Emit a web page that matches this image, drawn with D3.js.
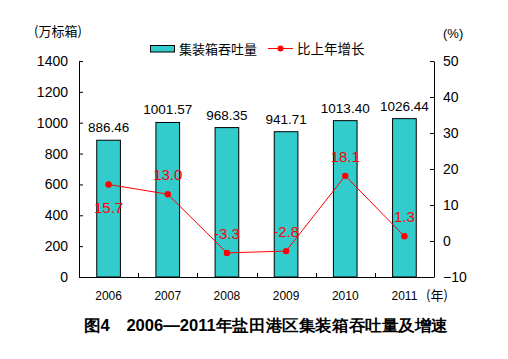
<!DOCTYPE html>
<html>
<head>
<meta charset="utf-8">
<script src="https://cdn.jsdelivr.net/npm/d3@7"></script>
<style>
  body { margin: 0; background: #fff; }
  svg { display: block; }
  text { font-family: "Liberation Sans", Arial, sans-serif; }
  .cjk { font-family: "Noto Sans CJK SC", sans-serif; }
</style>
</head>
<body>
<svg width="508" height="359"></svg>
<script>
const years = ["2006", "2007", "2008", "2009", "2010", "2011"];
const teu = [886.46, 1001.57, 968.35, 941.71, 1013.40, 1026.44];
const growth = [15.7, 13.0, -3.3, -2.8, 18.1, 1.3];
const leftTicks = [0, 200, 400, 600, 800, 1000, 1200, 1400];
const rightTicks = [-10, 0, 10, 20, 30, 40, 50];

const width = 508;
const height = 359;
const margin = { left: 79, right: 74, top: 61, bottom: 82 };

const svg = d3.select("svg");

const x = d3
  .scaleBand()
  .domain(years)
  .range([margin.left, width - margin.right])
  .paddingInner(0.6)
  .paddingOuter(0.3);

const yL = d3.scaleLinear().domain([0, 1400]).range([height - margin.bottom, margin.top]);
const yR = d3.scaleLinear().domain([-10, 50]).range([height - margin.bottom, margin.top]);

const bottom = height - margin.bottom;
const right = width - margin.right;

// bars
svg
  .append("g")
  .selectAll("rect")
  .data(teu)
  .join("rect")
  .attr("x", (d, i) => x(years[i]))
  .attr("y", (d) => yL(d))
  .attr("width", x.bandwidth())
  .attr("height", (d) => bottom - yL(d))
  .attr("fill", "#33CCCC")
  .attr("stroke", "#000")
  .attr("stroke-width", 1);

// bar value labels
svg
  .append("g")
  .selectAll("text")
  .data(teu)
  .join("text")
  .attr("x", (d, i) => x(years[i]) + x.bandwidth() / 2)
  .attr("y", (d) => yL(d) - 8)
  .attr("text-anchor", "middle")
  .attr("font-size", 13.5)
  .attr("fill", "#000")
  .text((d) => d.toFixed(2));

// left axis
const axL = svg
  .append("g")
  .attr("transform", `translate(${margin.left},0)`)
  .call(
    d3.axisLeft(yL).tickValues(leftTicks).tickFormat(d3.format("d"))
      .tickSize(-4).tickPadding(11).tickSizeOuter(0)
  );
axL.selectAll("text").attr("font-size", 14).attr("font-family", "Liberation Sans, Arial, sans-serif");

// right axis
const axR = svg
  .append("g")
  .attr("transform", `translate(${right},0)`)
  .call(
    d3.axisRight(yR).tickValues(rightTicks).tickFormat(d3.format("d"))
      .tickSize(-4).tickPadding(9).tickSizeOuter(0)
  );
axR.selectAll("text").attr("font-size", 14).attr("font-family", "Liberation Sans, Arial, sans-serif");

// bottom axis line with category separator ticks
svg
  .append("line")
  .attr("x1", margin.left)
  .attr("x2", right)
  .attr("y1", bottom + 0.5)
  .attr("y2", bottom + 0.5)
  .attr("stroke", "#000");

svg
  .append("g")
  .selectAll("line")
  .data(years.slice(1))
  .join("line")
  .attr("x1", (d) => Math.round(x(d) - x.step() * x.paddingInner() / 2) + 0.5)
  .attr("x2", (d) => Math.round(x(d) - x.step() * x.paddingInner() / 2) + 0.5)
  .attr("y1", bottom)
  .attr("y2", bottom - 4)
  .attr("stroke", "#000");

svg
  .append("g")
  .selectAll("text")
  .data(years)
  .join("text")
  .attr("x", (d) => x(d) + x.bandwidth() / 2)
  .attr("y", bottom + 23)
  .attr("text-anchor", "middle")
  .attr("font-size", 12)
  .text((d) => d);

// growth line
const line = d3
  .line()
  .x((d, i) => x(years[i]) + x.bandwidth() / 2)
  .y((d) => yR(d));

svg
  .append("path")
  .datum(growth)
  .attr("d", line)
  .attr("fill", "none")
  .attr("stroke", "#FF0000")
  .attr("stroke-width", 1);

svg
  .append("g")
  .selectAll("circle")
  .data(growth)
  .join("circle")
  .attr("cx", (d, i) => x(years[i]) + x.bandwidth() / 2)
  .attr("cy", (d) => yR(d))
  .attr("r", 3.2)
  .attr("fill", "#FF0000");

svg
  .append("g")
  .selectAll("text")
  .data(growth)
  .join("text")
  .attr("x", (d, i) => x(years[i]) + x.bandwidth() / 2)
  .attr("y", (d, i) => (i === 0 ? yR(d) + 29 : yR(d) - 14))
  .attr("text-anchor", "middle")
  .attr("font-size", 15)
  .attr("font-family", "Liberation Sans Narrow, Liberation Sans, Arial, sans-serif")
  .attr("fill", "#FF0000")
  .text((d) => d.toFixed(1));

// unit labels
svg.append("text").attr("class", "cjk").attr("x", 34).attr("y", 36).attr("font-size", 13).text("(万标箱)");
svg.append("text").attr("x", 443).attr("y", 38).attr("font-size", 13).text("(%)");
svg.append("text").attr("class", "cjk").attr("x", 426).attr("y", 300).attr("font-size", 13).text("(年)");

// legend
const lg = svg.append("g");
lg.append("rect")
  .attr("x", 150.5)
  .attr("y", 45.5)
  .attr("width", 24)
  .attr("height", 6.5)
  .attr("fill", "#33CCCC")
  .attr("stroke", "#000");
lg.append("text").attr("class", "cjk").attr("x", 179).attr("y", 53.5).attr("font-size", 13).text("集装箱吞吐量");
lg.append("line")
  .attr("x1", 268)
  .attr("x2", 293)
  .attr("y1", 48.5)
  .attr("y2", 48.5)
  .attr("stroke", "#FF0000");
lg.append("circle").attr("cx", 280.5).attr("cy", 48.5).attr("r", 3).attr("fill", "#FF0000");
lg.append("text").attr("class", "cjk").attr("x", 297).attr("y", 53.5).attr("font-size", 13.5).text("比上年增长");

// title
svg
  .append("text")
  .attr("x", 84)
  .attr("y", 331)
  .attr("font-size", 16)
  .attr("font-weight", "bold")
  .attr("font-family", "Noto Sans CJK SC, serif")
  .attr("textLength", 364)
  .attr("lengthAdjust", "spacingAndGlyphs")
  .text("图4　2006—2011年盐田港区集装箱吞吐量及增速");
</script>
</body>
</html>
